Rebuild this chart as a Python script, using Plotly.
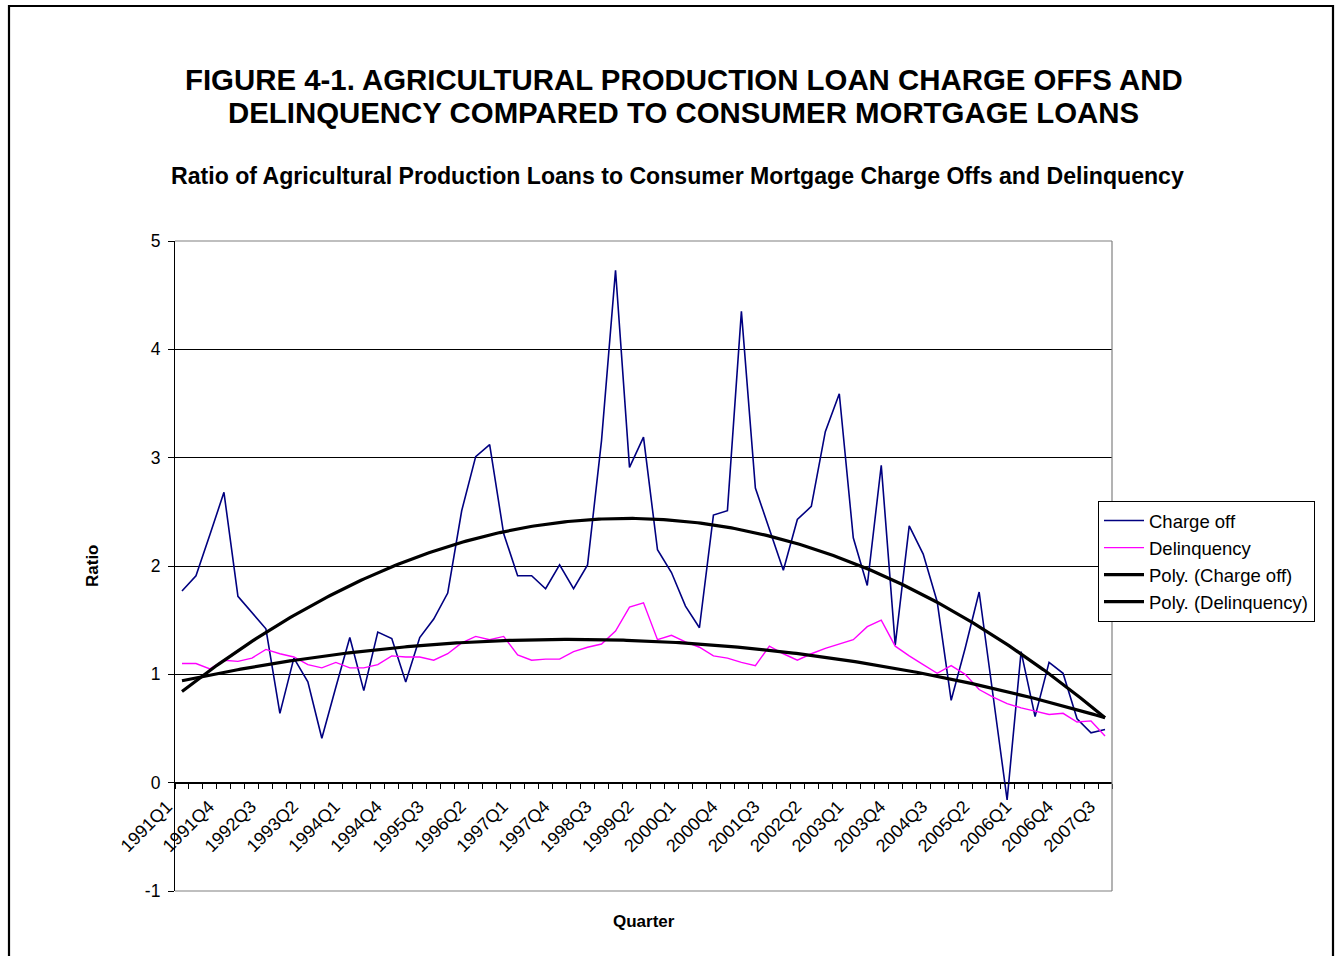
import numpy as np
import plotly.graph_objects as go

# ---------------- data ----------------
quarters = [f"{y}Q{q}" for y in range(1991, 2008) for q in range(1, 5)][:67]  # 1991Q1 .. 2007Q3

charge_off = [1.77, 1.91, 2.29, 2.68, 1.72, 1.57, 1.42, 0.64, 1.15, 0.93,
              0.41, 0.88, 1.34, 0.85, 1.39, 1.33, 0.93, 1.34, 1.51, 1.75,
              2.51, 3.01, 3.12, 2.30, 1.91, 1.91, 1.79, 2.01, 1.79, 2.01,
              3.16, 4.73, 2.91, 3.19, 2.15, 1.94, 1.63, 1.43, 2.47, 2.51,
              4.35, 2.72, 2.34, 1.96, 2.43, 2.55, 3.24, 3.59, 2.26, 1.82,
              2.93, 1.27, 2.37, 2.11, 1.67, 0.76, 1.24, 1.76, 0.80, -0.16,
              1.21, 0.61, 1.11, 1.01, 0.59, 0.46, 0.49]

delinquency = [1.10, 1.10, 1.05, 1.13, 1.12, 1.15, 1.23, 1.19, 1.16, 1.09,
               1.06, 1.11, 1.06, 1.06, 1.09, 1.17, 1.16, 1.16, 1.13, 1.19,
               1.29, 1.35, 1.32, 1.35, 1.18, 1.13, 1.14, 1.14, 1.21, 1.25,
               1.28, 1.40, 1.62, 1.66, 1.32, 1.36, 1.30, 1.25, 1.17, 1.15,
               1.11, 1.08, 1.26, 1.19, 1.13, 1.19, 1.24, 1.28, 1.32, 1.44,
               1.50, 1.26, 1.17, 1.09, 1.01, 1.08, 1.00, 0.86, 0.79, 0.73,
               0.69, 0.66, 0.63, 0.64, 0.56, 0.57, 0.43]

y_ticks = [-1, 0, 1, 2, 3, 4, 5]

# ---------------- geometry helpers (layout only) ----------------
W, H = 1335, 956
PL, PR, PT, PB = 175, 1112, 241, 891


def px(xp):
    return (xp - PL) / (PR - PL)


def py(yp):
    return (PB - yp) / (PB - PT)


FONT = "Liberation Sans, Arial, sans-serif"
NAVY = "#000080"
MAGENTA = "#FF00FF"

idx = list(range(len(quarters)))


# polynomial (order 2) trendlines, as Excel computes them
def poly_trend(values):
    xs = np.arange(1, len(values) + 1)
    coef = np.polyfit(xs, values, 2)
    xf = np.linspace(1, len(values), 300)
    return (xf - 1).tolist(), np.polyval(coef, xf).tolist()


tx_c, ty_c = poly_trend(charge_off)
tx_d, ty_d = poly_trend(delinquency)

fig = go.Figure()
fig.add_trace(go.Scatter(x=idx, y=charge_off, mode="lines", name="Charge off",
                         line=dict(color=NAVY, width=1.6)))
fig.add_trace(go.Scatter(x=idx, y=delinquency, mode="lines", name="Delinquency",
                         line=dict(color=MAGENTA, width=1.4)))
fig.add_trace(go.Scatter(x=tx_c, y=ty_c, mode="lines", name="Poly. (Charge off)",
                         line=dict(color="black", width=3.2)))
fig.add_trace(go.Scatter(x=tx_d, y=ty_d, mode="lines", name="Poly. (Delinquency)",
                         line=dict(color="black", width=3.2)))

shapes = [
    # outer chart frame
    dict(type="rect", xref="paper", yref="paper", x0=px(9), x1=px(1333), y0=py(975), y1=py(6),
         line=dict(color="black", width=2.2), fillcolor="rgba(0,0,0,0)", layer="above"),
    # plot area border (top, right, bottom) in gray
    dict(type="line", xref="paper", yref="paper", x0=0, x1=1, y0=1, y1=1,
         line=dict(color="#808080", width=1.2), layer="below"),
    dict(type="line", xref="paper", yref="paper", x0=1, x1=1, y0=0, y1=1,
         line=dict(color="#808080", width=1.2), layer="above"),
    dict(type="line", xref="paper", yref="paper", x0=0, x1=1, y0=0, y1=0,
         line=dict(color="#808080", width=1.2), layer="above"),
]

annotations = [
    dict(text="<b>FIGURE 4-1. AGRICULTURAL PRODUCTION LOAN CHARGE OFFS AND</b>",
         x=px(683.5), y=py(79), xref="paper", yref="paper", showarrow=False,
         xanchor="center", yanchor="middle", font=dict(family=FONT, size=29.4, color="black")),
    dict(text="<b>DELINQUENCY COMPARED TO CONSUMER MORTGAGE LOANS</b>",
         x=px(683.5), y=py(112), xref="paper", yref="paper", showarrow=False,
         xanchor="center", yanchor="middle", font=dict(family=FONT, size=29.4, color="black")),
    dict(text="<b>Ratio of Agricultural Production Loans to Consumer Mortgage Charge Offs and Delinquency</b>",
         x=px(677.5), y=py(176), xref="paper", yref="paper", showarrow=False,
         xanchor="center", yanchor="middle", font=dict(family=FONT, size=23.1, color="black")),
    dict(text="<b>Ratio</b>", x=px(92), y=py(566), xref="paper", yref="paper", showarrow=False,
         textangle=-90, xanchor="center", yanchor="middle",
         font=dict(family=FONT, size=17, color="black")),
    dict(text="<b>Quarter</b>", x=px(644), y=py(921), xref="paper", yref="paper", showarrow=False,
         xanchor="center", yanchor="middle", font=dict(family=FONT, size=17, color="black")),
]

fig.update_layout(
    width=W, height=H,
    margin=dict(l=PL, r=W - PR, t=PT, b=H - PB, pad=0),
    paper_bgcolor="white", plot_bgcolor="white",
    font=dict(family=FONT, size=17, color="black"),
    showlegend=True,
    legend=dict(x=px(1098), y=py(501), xanchor="left", yanchor="top",
                bgcolor="white", bordercolor="black", borderwidth=1,
                font=dict(family=FONT, size=18.5, color="black"),
                itemwidth=40, tracegroupgap=0),
    shapes=shapes,
    annotations=annotations,
    xaxis=dict(
        range=[-0.5, len(quarters) - 0.5],
        tickmode="array",
        tickvals=idx[::3],
        ticktext=quarters[::3],
        tickangle=-45,
        ticks="outside", ticklen=9, tickcolor="rgba(0,0,0,0)",
        ticklabelshift=-15, ticklabelstandoff=-4,
        tickfont=dict(family=FONT, size=18, color="black"),
        minor=dict(tickmode="array", tickvals=[i - 0.5 for i in range(len(quarters) + 1)],
                   ticks="outside", ticklen=5, tickcolor="black", tickwidth=1, showgrid=False),
        showgrid=False, zeroline=False,
        showline=True, linecolor="black", linewidth=1,
        anchor="free", position=py(783),
    ),
    yaxis=dict(
        range=[-1, 5],
        tickmode="array", tickvals=y_ticks, ticktext=[str(v) for v in y_ticks],
        ticks="outside", ticklen=6, tickcolor="black", tickwidth=1,
        ticklabelstandoff=4,
        tickfont=dict(family=FONT, size=17.5, color="black"),
        showgrid=True, gridcolor="black", gridwidth=1,
        zeroline=False,
        showline=True, linecolor="black", linewidth=1.2,
    ),
)

fig.write_html("out.html")
